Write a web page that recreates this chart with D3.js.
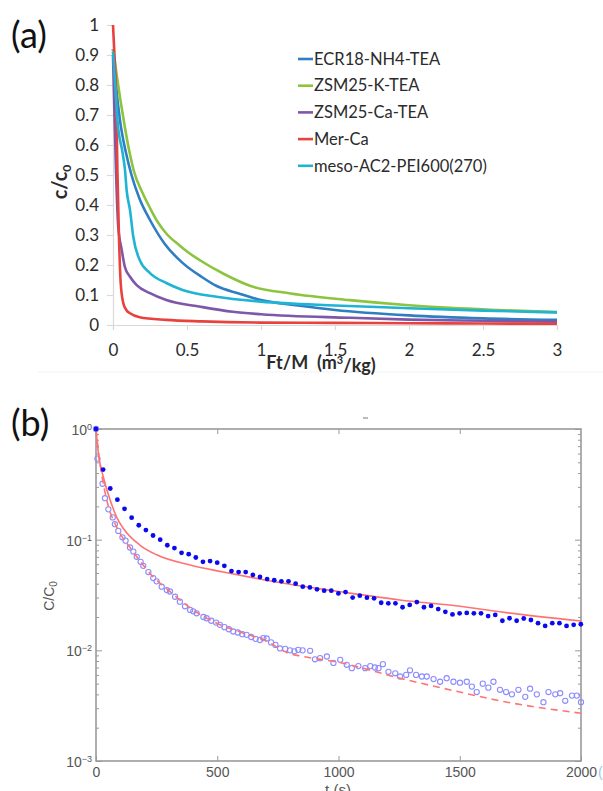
<!DOCTYPE html>
<html>
<head>
<meta charset="utf-8">
<script src="https://cdn.jsdelivr.net/npm/d3@7"></script>
<style>
  body { margin: 0; background: #fff; }
  svg { display: block; }
</style>
</head>
<body>
<svg id="fig" width="603" height="791"></svg>
<script>
// ---- panel (a): breakthrough curves, c/c0 vs Ft/M ----
const seriesNames = ['ECR18-NH4-TEA', 'ZSM25-K-TEA', 'ZSM25-Ca-TEA', 'Mer-Ca', 'meso-AC2-PEI600(270)']
const ecrX = [0, 0.02, 0.047, 0.088, 0.125, 0.18, 0.25, 0.35, 0.47, 0.6, 0.7, 0.85, 1, 1.25, 1.5, 2, 2.5, 3]
const ecrY = [0.92, 0.8, 0.683, 0.573, 0.5, 0.42, 0.35, 0.27, 0.207, 0.16, 0.13, 0.105, 0.083, 0.065, 0.05, 0.032, 0.022, 0.017]
const zsmKX = [0, 0.02, 0.05, 0.08, 0.11, 0.14, 0.2, 0.25, 0.3, 0.36, 0.45, 0.5, 0.59, 0.75, 0.93, 1.2, 1.6, 2, 2.28, 2.6, 3]
const zsmKY = [0.92, 0.85, 0.75, 0.66, 0.58, 0.515, 0.44, 0.39, 0.345, 0.305, 0.265, 0.245, 0.215, 0.17, 0.13, 0.105, 0.083, 0.066, 0.057, 0.05, 0.043]
const zsmCaX = [0, 0.01, 0.02, 0.035, 0.059, 0.08, 0.115, 0.16, 0.25, 0.36, 0.59, 0.81, 1, 1.6, 2, 2.5, 3]
const zsmCaY = [0.9, 0.7, 0.52, 0.33, 0.25, 0.194, 0.161, 0.133, 0.106, 0.083, 0.061, 0.044, 0.036, 0.024, 0.018, 0.014, 0.011]
const merX = [0, 0.01, 0.02, 0.03, 0.04, 0.052, 0.07, 0.09, 0.115, 0.18, 0.36, 0.6, 1, 1.5, 2, 2.5, 3]
const merY = [1, 0.9, 0.79, 0.51, 0.3, 0.14, 0.072, 0.05, 0.039, 0.026, 0.017, 0.012, 0.008, 0.007, 0.006, 0.005, 0.004]
const mesoX = [0, 0.015, 0.03, 0.065, 0.081, 0.092, 0.115, 0.137, 0.18, 0.25, 0.36, 0.47, 0.7, 1, 1.5, 2, 2.5, 3]
const mesoY = [0.91, 0.8, 0.683, 0.573, 0.517, 0.45, 0.383, 0.294, 0.217, 0.173, 0.14, 0.117, 0.094, 0.078, 0.065, 0.056, 0.048, 0.042]
const xTicksA = [0, 0.5, 1, 1.5, 2, 2.5, 3]
const yTicksA = [0, 0.1, 0.2, 0.3, 0.4, 0.5, 0.6, 0.7, 0.8, 0.9, 1]

// ---- panel (b): C/C0 vs t, log scale ----
// filled points, sampled every ~29.4 s
const filledStep = 29.4
const filledV = [1.0, 0.43, 0.29, 0.23, 0.19, 0.158, 0.135, 0.122, 0.109, 0.100,
  0.089, 0.084, 0.076, 0.074, 0.069, 0.063, 0.064, 0.062, 0.058, 0.052,
  0.051, 0.051, 0.048, 0.046, 0.044, 0.043, 0.042, 0.042, 0.040, 0.0376,
  0.037, 0.0356, 0.0346, 0.0346, 0.0327, 0.0336, 0.030, 0.0312, 0.0299, 0.0295,
  0.0269, 0.0266, 0.0266, 0.0245, 0.0257, 0.0273, 0.0245, 0.0252, 0.0236, 0.0223,
  0.0211, 0.0216, 0.0218, 0.0216, 0.0216, 0.0204, 0.0209, 0.0185, 0.0195, 0.0185,
  0.0194, 0.0188, 0.0176, 0.0166, 0.0176, 0.0176, 0.0166, 0.017, 0.0172]
// open points
const openT = [0, 6, 27, 37, 51, 69, 78, 92, 109, 122, 140, 154, 168, 184, 195, 216, 236, 250, 271, 292,
  305, 326, 346, 367, 388, 401, 415, 443, 456, 475, 495, 511, 530, 548, 566, 585, 603, 621, 640, 658,
  676, 690, 704, 722, 740, 759, 780, 800, 818, 834, 852, 883, 903, 924, 952, 979, 1007, 1034, 1055, 1082,
  1110, 1131, 1150, 1165, 1183, 1206, 1234, 1254, 1279, 1295, 1320, 1344, 1364, 1392, 1419, 1446, 1474, 1501, 1529, 1550,
  1570, 1595, 1618, 1639, 1666, 1691, 1715, 1742, 1770, 1790, 1818, 1845, 1866, 1894, 1914, 1935, 1963, 1983, 2000]
const openV = [1.0, 0.54, 0.32, 0.237, 0.188, 0.159, 0.138, 0.12, 0.105, 0.098, 0.085, 0.078, 0.070, 0.063, 0.058, 0.051, 0.045, 0.042, 0.0376, 0.035,
  0.034, 0.0305, 0.0275, 0.025, 0.0232, 0.0225, 0.0216, 0.020, 0.0195, 0.0185, 0.0178, 0.017, 0.0162, 0.0155, 0.0148, 0.0145, 0.014, 0.0138, 0.0132, 0.0127,
  0.0124, 0.0129, 0.0128, 0.0118, 0.0112, 0.0104, 0.0103, 0.0100, 0.0098, 0.0101, 0.0100, 0.0099, 0.0083, 0.0085, 0.0088, 0.0077, 0.0082, 0.0074, 0.0069, 0.0072,
  0.0069, 0.0072, 0.0070, 0.0069, 0.0075, 0.0064, 0.0062, 0.0058, 0.0060, 0.0066, 0.0060, 0.0058, 0.0058, 0.0055, 0.0052, 0.0056, 0.0052, 0.0051, 0.0052, 0.0047,
  0.0042, 0.0050, 0.0046, 0.0052, 0.0044, 0.0042, 0.0040, 0.0044, 0.0038, 0.0045, 0.0040, 0.0034, 0.0042, 0.0040, 0.0041, 0.0035, 0.0039, 0.0039, 0.0034]
// model fits
const fitSolidT = [0, 10, 30, 58, 85, 113, 182, 250, 388, 525, 663, 800, 1000, 1253, 1500, 1665, 2000]
const fitSolidV = [1, 0.6, 0.37, 0.23, 0.16, 0.126, 0.089, 0.073, 0.059, 0.051, 0.0446, 0.0395, 0.034, 0.0285, 0.025, 0.0223, 0.0184]
const fitDashT = [0, 10, 27, 51, 78, 109, 140, 184, 236, 292, 346, 415, 500, 600, 700, 800, 841, 1000, 1253, 1500, 1665, 2000]
const fitDashV = [1, 0.62, 0.35, 0.2, 0.14, 0.105, 0.085, 0.063, 0.046, 0.036, 0.0285, 0.022, 0.0175, 0.0145, 0.0122, 0.0093, 0.0089, 0.0078, 0.0056, 0.0042, 0.0035, 0.0027]
const xTicksB = [0, 500, 1000, 1500, 2000]
const yMajorB = [1e-3, 1e-2, 1e-1, 1]
const yExpB = ['\u22123', '\u22122', '\u22121', '0']

const colorsA = ['#2f7ec4', '#8cc440', '#7e57a8', '#e8423f', '#1fb4d4']
const fontA = 'Lato, "Open Sans", sans-serif'
const fontB = '"Liberation Sans", Arial, sans-serif'

const svg = d3.select('#fig')

// ================= panel (a) =================
const xA = d3.scaleLinear().domain([0, 3]).range([113, 557])
const yA = d3.scaleLinear().domain([0, 1]).range([325, 25])

// faint chart-area edge
svg.append('line').attr('x1', 38).attr('x2', 603).attr('y1', 372).attr('y2', 372)
  .attr('stroke', '#f2f2f2').attr('stroke-width', 1)

const gyA = svg.append('g').attr('transform', 'translate(113,0)')
  .call(d3.axisLeft(yA).tickValues(yTicksA).tickSize(6).tickPadding(8).tickFormat(d3.format('~g')))
const gxA = svg.append('g').attr('transform', 'translate(0,325)')
  .call(d3.axisBottom(xA).tickValues(xTicksA).tickSize(5).tickPadding(14).tickFormat(d3.format('~g')))
for (const g of [gyA, gxA]) {
  g.select('.domain').attr('stroke', '#d9d9d9').attr('stroke-width', 1.2)
  g.selectAll('.tick line').attr('stroke', '#d9d9d9').attr('stroke-width', 1.2)
  g.selectAll('.tick text').attr('fill', '#2b2b2b').style('font-family', fontA).style('font-size', '17px')
}

const lineA = d3.line().x(d => xA(d[0])).y(d => yA(d[1])).curve(d3.curveMonotoneX)
const seriesA = [[ecrX, ecrY], [zsmKX, zsmKY], [zsmCaX, zsmCaY], [merX, merY], [mesoX, mesoY]]
seriesA.forEach(([xs, ys], i) => {
  svg.append('path').datum(xs.map((x, j) => [x, ys[j]]))
    .attr('d', lineA).attr('fill', 'none')
    .attr('stroke', colorsA[i]).attr('stroke-width', 2.6).attr('stroke-linejoin', 'round')
})

// legend
const leg = svg.append('g').attr('transform', 'translate(298,59)')
seriesNames.forEach((name, i) => {
  const row = leg.append('g').attr('transform', `translate(0,${i * 26.7})`)
  row.append('line').attr('x1', 0).attr('x2', 15).attr('stroke', colorsA[i]).attr('stroke-width', 2.6)
  row.append('text').attr('x', 16).attr('dy', '0.35em').text(name)
    .attr('fill', '#2b2b2b').style('font-family', fontA).style('font-size', '16.5px')
})

// axis titles (a)
const ytA = svg.append('text').attr('transform', 'translate(67,182) rotate(-90)')
  .attr('text-anchor', 'middle').attr('fill', '#2b2b2b')
  .style('font-family', fontA).style('font-size', '20px').style('font-weight', 'bold')
ytA.append('tspan').text('c/c')
ytA.append('tspan').attr('dy', '0.3em').style('font-size', '12px').text('0')

const xtA = svg.append('text').attr('x', 321).attr('y', 369).attr('text-anchor', 'middle')
  .attr('fill', '#2b2b2b').style('font-family', fontA).style('font-size', '18px').style('font-weight', 'bold')
xtA.append('tspan').text('Ft/M\u00a0 (m')
xtA.append('tspan').attr('dy', '-0.45em').style('font-size', '11px').text('3')
xtA.append('tspan').attr('dy', '0.45em').text('/kg)')

svg.append('text').attr('x', 11).attr('y', 48).text('(a)')
  .attr('fill', '#111').style('font-family', fontA).style('font-size', '36px')

// ================= panel (b) =================
const xB = d3.scaleLinear().domain([0, 2000]).range([96, 581])
const yB = d3.scaleLog().domain([1e-3, 1]).range([761, 429])
const axisGrey = '#9a9a9a'
const minorB = []
for (const dec of [1e-3, 1e-2, 1e-1]) for (let k = 2; k <= 9; k++) minorB.push(dec * k)

function styleB(g) {
  g.select('.domain').remove()
  g.selectAll('.tick line').attr('stroke', axisGrey).attr('stroke-width', 1)
  g.selectAll('.tick text').attr('fill', '#555').style('font-family', fontB).style('font-size', '14px')
}

// left
svg.append('g').attr('transform', 'translate(96,0)')
  .call(d3.axisLeft(yB).tickValues(minorB).tickSizeInner(-3).tickFormat('')).call(styleB)
const gyB = svg.append('g').attr('transform', 'translate(96,0)')
  .call(d3.axisLeft(yB).tickValues(yMajorB).tickSizeInner(-6).tickPadding(5).tickFormat('')).call(styleB)
gyB.selectAll('.tick').each(function (d, i) {
  const t = d3.select(this).append('text').attr('x', -4).attr('dy', '0.4em').attr('text-anchor', 'end')
    .attr('fill', '#555').style('font-family', fontB).style('font-size', '14px')
  t.append('tspan').text('10')
  t.append('tspan').attr('dy', '-0.55em').style('font-size', '9px').text(yExpB[i])
})
// right
svg.append('g').attr('transform', 'translate(581,0)')
  .call(d3.axisRight(yB).tickValues(minorB).tickSizeInner(-3).tickFormat('')).call(styleB)
svg.append('g').attr('transform', 'translate(581,0)')
  .call(d3.axisRight(yB).tickValues(yMajorB).tickSizeInner(-6).tickFormat('')).call(styleB)
// bottom
svg.append('g').attr('transform', 'translate(0,761)')
  .call(d3.axisBottom(xB).tickValues(xTicksB).tickSizeInner(-5).tickPadding(6).tickFormat(d3.format('d'))).call(styleB)
// top
svg.append('g').attr('transform', 'translate(0,429)')
  .call(d3.axisTop(xB).tickValues(xTicksB.slice(1, -1)).tickSizeInner(-5).tickFormat('')).call(styleB)

svg.append('rect').attr('x', 96).attr('y', 429).attr('width', 485).attr('height', 332)
  .attr('fill', 'none').attr('stroke', axisGrey).attr('stroke-width', 1.6)

// open symbols
svg.append('g').selectAll('circle').data(openT.map((t, i) => [t, openV[i]])).join('circle')
  .attr('cx', d => xB(d[0])).attr('cy', d => yB(d[1])).attr('r', 2.6)
  .attr('fill', 'none').attr('stroke', '#8c8cff').attr('stroke-width', 1.1)

const lineB = d3.line().x(d => xB(d[0])).y(d => yB(d[1])).curve(d3.curveMonotoneX)
svg.append('path').datum(fitDashT.map((t, i) => [t, fitDashV[i]]))
  .attr('d', lineB).attr('fill', 'none').attr('stroke', '#ff7373').attr('stroke-width', 1.6)
  .attr('stroke-dasharray', '7,5')
svg.append('path').datum(fitSolidT.map((t, i) => [t, fitSolidV[i]]))
  .attr('d', lineB).attr('fill', 'none').attr('stroke', '#ff7373').attr('stroke-width', 1.6)

// filled symbols
svg.append('g').selectAll('circle').data(filledV.map((v, i) => [i * filledStep, v])).join('circle')
  .attr('cx', d => xB(d[0])).attr('cy', d => yB(d[1])).attr('r', 2.4)
  .attr('fill', '#0a0af0')

// titles (b)
const ytB = svg.append('text').attr('transform', 'translate(54,596) rotate(-90)')
  .attr('text-anchor', 'middle').attr('fill', '#555').style('font-family', fontB).style('font-size', '14px')
ytB.append('tspan').text('C/C')
ytB.append('tspan').attr('dy', '0.3em').style('font-size', '10px').text('0')

svg.append('text').attr('x', 338).attr('y', 795).attr('text-anchor', 'middle').text('t (s)')
  .attr('fill', '#555').style('font-family', fontB).style('font-size', '15px')
svg.append('text').attr('x', 598).attr('y', 777).text('(')
  .attr('fill', '#9fc6e6').style('font-family', fontB).style('font-size', '14px')
svg.append('line').attr('x1', 363).attr('x2', 368).attr('y1', 418).attr('y2', 418)
  .attr('stroke', '#777').attr('stroke-width', 1)

svg.append('text').attr('x', 11).attr('y', 436).text('(b)')
  .attr('fill', '#111').style('font-family', fontA).style('font-size', '36px')
</script>
</body>
</html>
